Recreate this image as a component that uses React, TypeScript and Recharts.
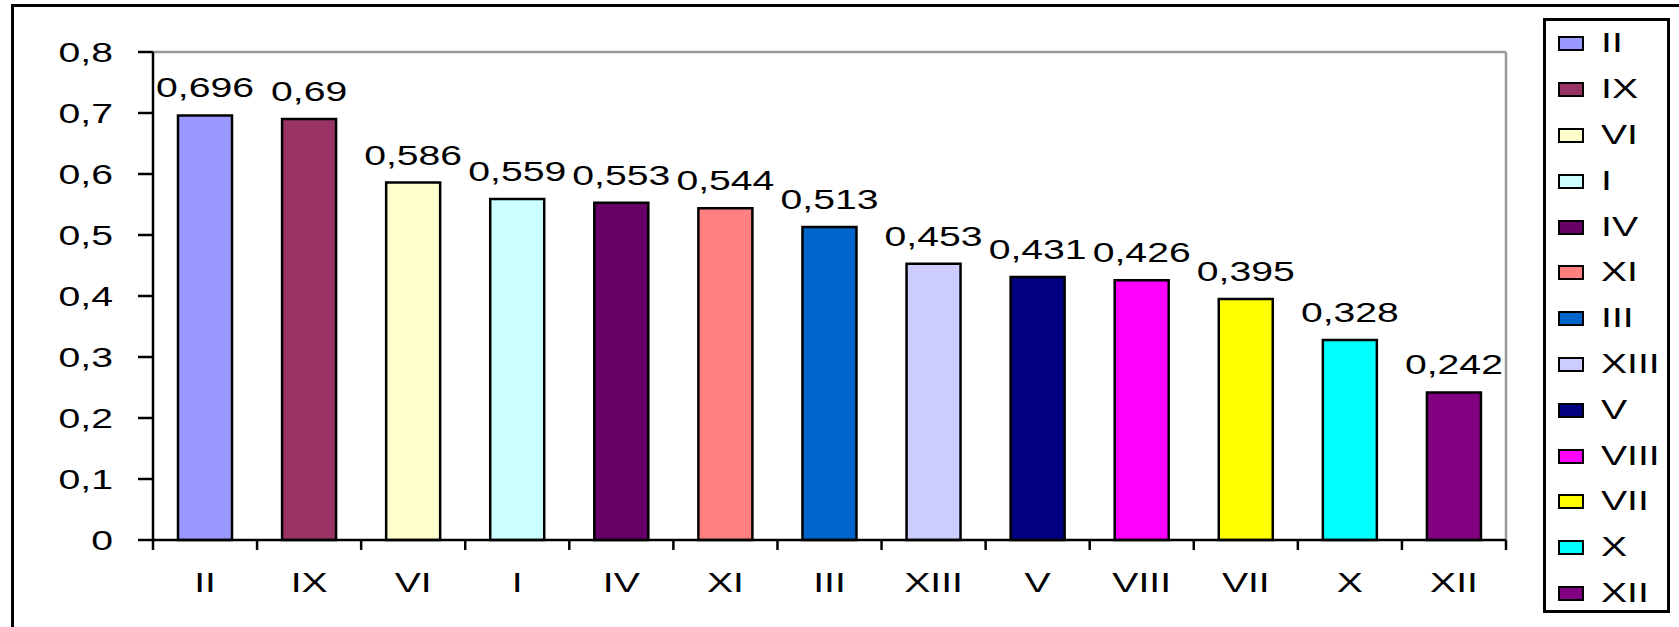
import { BarChart, Bar, XAxis, YAxis, CartesianGrid, Legend, LabelList, Cell } from "recharts";

const categories = ["II", "IX", "VI", "I", "IV", "XI", "III", "XIII", "V", "VIII", "VII", "X", "XII"];
const values = [0.696, 0.69, 0.586, 0.559, 0.553, 0.544, 0.513, 0.453, 0.431, 0.426, 0.395, 0.328, 0.242];
const colors = [
  "#9999FF", "#993366", "#FFFFCC", "#CCFFFF", "#660066", "#FF8080", "#0066CC",
  "#CCCCFF", "#000080", "#FF00FF", "#FFFF00", "#00FFFF", "#800080",
];
const yTicks = [0, 0.1, 0.2, 0.3, 0.4, 0.5, 0.6, 0.7, 0.8];

const data = categories.map((name, i) => ({ name, value: values[i] }));

const FONT = '"Liberation Sans", Arial, sans-serif';
const FS = 27;
const STRETCH = 1.45; // the original text is drawn wide
const fmt = (v: any) => String(v).replace(".", ",");

function WideText({ x, y, anchor, children, dy }: any) {
  return (
    <text
      transform={`translate(${x},${y}) scale(${STRETCH},1)`}
      textAnchor={anchor}
      dy={dy}
      fontSize={FS}
      fontFamily={FONT}
      fill="#000"
    >
      {children}
    </text>
  );
}

// Excel style: tick marks between categories, label in the middle
function CategoryTick(props: any) {
  const { x, y, payload, index, visibleTicksCount } = props;
  const half = payload?.offset ?? 52;
  const axisY = y - 10;
  return (
    <g>
      <line x1={x - half} y1={axisY} x2={x - half} y2={axisY + 10} stroke="#000" strokeWidth={2.5} />
      {index === visibleTicksCount - 1 && (
        <line x1={x + half} y1={axisY} x2={x + half} y2={axisY + 10} stroke="#000" strokeWidth={2.5} />
      )}
      <WideText x={x} y={axisY + 52} anchor="middle">
        {payload.value}
      </WideText>
    </g>
  );
}

function ValueTick(props: any) {
  const { x, y, payload } = props;
  return (
    <WideText x={x} y={y} anchor="end" dy="0.355em">
      {fmt(payload.value)}
    </WideText>
  );
}

function BarValue(props: any) {
  const { x, y, width, value } = props;
  return (
    <WideText x={Number(x) + Number(width) / 2} y={Number(y) - 18} anchor="middle">
      {fmt(value)}
    </WideText>
  );
}

function LegendBox() {
  return (
    <div
      style={{
        border: "3px solid #000",
        boxSizing: "border-box",
        width: 127,
        height: 595,
        background: "#fff",
        fontFamily: FONT,
      }}
    >
      {categories.map((c, i) => (
        <div key={c} style={{ height: 45.8, display: "flex", alignItems: "center" }}>
          <span
            style={{
              display: "inline-block",
              width: 26,
              height: 15,
              marginLeft: 12,
              border: "2.5px solid #000",
              boxSizing: "border-box",
              background: colors[i],
            }}
          />
          <span
            style={{
              display: "inline-block",
              marginLeft: 17,
              fontSize: FS,
              color: "#000",
              lineHeight: 1,
              transform: `scaleX(${STRETCH})`,
              transformOrigin: "left center",
            }}
          >
            {c}
          </span>
        </div>
      ))}
    </div>
  );
}

export default function App() {
  return (
    <div
      style={{
        position: "absolute",
        left: 0,
        top: 0,
        width: 1679,
        height: 627,
        overflow: "hidden",
        background: "#fff",
        fontFamily: FONT,
      }}
    >
      <div
        style={{
          position: "absolute",
          left: 11,
          top: 4,
          width: 1760,
          height: 700,
          border: "3px solid #000",
        }}
      />
      <div style={{ position: "absolute", left: 0, top: 0 }}>
        <BarChart
          width={1679}
          height={627}
          data={data}
          margin={{ top: 52, right: 46, bottom: 27, left: 0 }}
          barSize={54}
        >
          <CartesianGrid
            stroke="#999"
            strokeWidth={2.5}
            horizontalCoordinatesGenerator={({ offset }: any) => [offset.top]}
            verticalCoordinatesGenerator={({ offset }: any) => [offset.left + offset.width]}
          />
          <XAxis
            dataKey="name"
            height={60}
            tickSize={10}
            tickMargin={0}
            tickLine={false}
            axisLine={{ stroke: "#000", strokeWidth: 2.5 }}
            tick={<CategoryTick />}
            interval={0}
          />
          <YAxis
            width={153}
            domain={[0, 0.8]}
            ticks={yTicks}
            tickSize={15}
            tickMargin={25}
            axisLine={{ stroke: "#000", strokeWidth: 2.5 }}
            tickLine={{ stroke: "#000", strokeWidth: 2.5 }}
            tick={<ValueTick />}
          />
          <Legend
            layout="vertical"
            align="right"
            verticalAlign="top"
            wrapperStyle={{ top: 18, right: 9, width: 127, height: 595 }}
            content={() => <LegendBox />}
          />
          <Bar dataKey="value" stroke="#000" strokeWidth={2.5} isAnimationActive={false}>
            {data.map((d, i) => (
              <Cell key={d.name} fill={colors[i]} />
            ))}
            <LabelList dataKey="value" content={<BarValue />} />
          </Bar>
        </BarChart>
      </div>
    </div>
  );
}
